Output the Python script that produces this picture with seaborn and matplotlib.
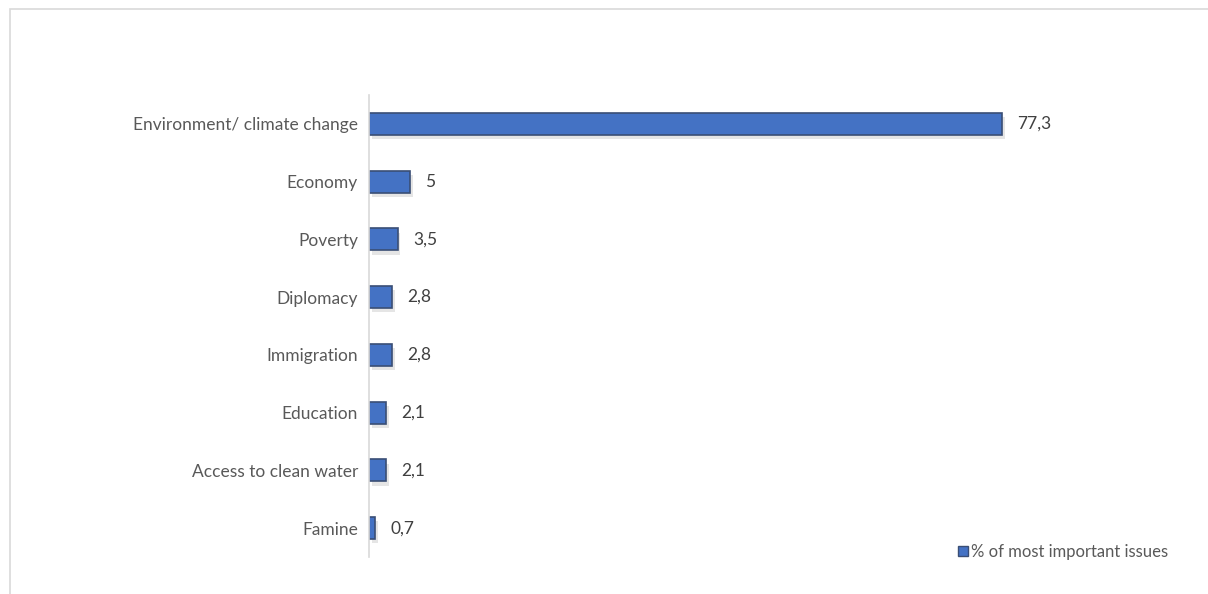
import matplotlib
matplotlib.use("Agg")
import matplotlib.pyplot as plt
import matplotlib.patheffects as pe
from matplotlib.patches import Rectangle, Patch
import seaborn as sns
import pandas as pd

categories = ["Environment/ climate change", "Economy", "Poverty", "Diplomacy",
              "Immigration", "Education", "Access to clean water", "Famine"]
values = [77.3, 5, 3.5, 2.8, 2.8, 2.1, 2.1, 0.7]
value_labels = ["77,3", "5", "3,5", "2,8", "2,8", "2,1", "2,1", "0,7"]
series_name = "% of most important issues"

sns.set_theme(style="white")
plt.rcParams['font.family'] = ['Lato', 'DejaVu Sans']

df = pd.DataFrame({"cat": categories, "val": values})

fig = plt.figure(figsize=(12.08, 5.94), dpi=100)
ax = fig.add_axes([369/1208, 1-557/594, (1106-369)/1208, (557-95)/594])

sns.barplot(data=df, y="cat", x="val", orient="h", ax=ax, color="#4472C4",
            width=0.38, edgecolor="#3A4E75", linewidth=1.2, saturation=1)

for p in ax.patches:
    p.set_path_effects([pe.SimplePatchShadow(offset=(2, -3), shadow_rgbFace="#000000", alpha=0.10),
                        pe.Normal()])

for i, (v, lab) in enumerate(zip(values, value_labels)):
    ax.annotate(lab, xy=(v, i), xytext=(11, 0), textcoords="offset points",
                ha="left", va="center", fontsize=12.5, color="#404040")

ax.set_xlim(0, 90)
ax.set_xlabel("")
ax.set_ylabel("")
ax.set_xticks([])
ax.tick_params(axis="y", length=0, labelsize=12.5, labelcolor="#595959", pad=8)
for s in ["top", "right", "bottom"]:
    ax.spines[s].set_visible(False)
ax.spines["left"].set_color("#D9D9D9")
ax.spines["left"].set_linewidth(1.2)

# chart border
fig.patches.append(Rectangle((10/1208, -0.05), 1.2, 1 - 9/594 + 0.05, transform=fig.transFigure,
                             fill=False, edgecolor="#D9D9D9", linewidth=1.2))

handle = Patch(facecolor="#4472C4", edgecolor="#3A4E75", linewidth=1.0)
fig.legend([handle], [series_name], loc="center left", bbox_to_anchor=(943/1208, 1-552/594),
           frameon=False, fontsize=12, handlelength=0.6, handleheight=0.6, handletextpad=0.2,
           labelcolor="#595959")

fig.savefig("out.png", dpi=100)
